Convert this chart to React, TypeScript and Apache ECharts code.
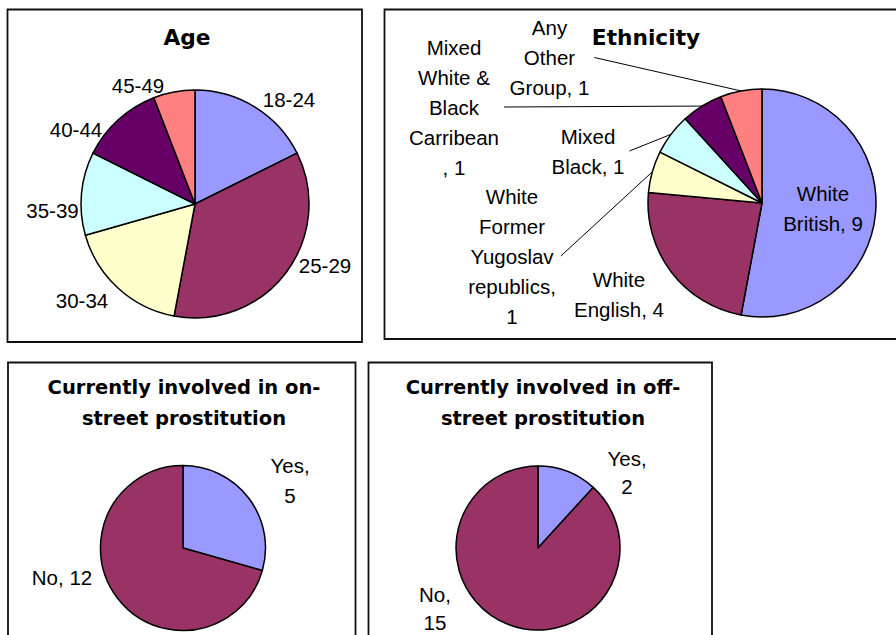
import React, { useEffect, useRef } from "react";
import * as echarts from "echarts";

// ---------- data ----------
const ageCategories = ["18-24", "25-29", "30-34", "35-39", "40-44", "45-49"];
const ageValues = [3, 6, 3, 2, 2, 1];

const ethnicityCategories = [
  "White British",
  "White English",
  "White Former Yugoslav republics",
  "Mixed Black",
  "Mixed White & Black Carribean",
  "Any Other Group",
];
const ethnicityValues = [9, 4, 1, 1, 1, 1];

const onStreetCategories = ["Yes", "No"];
const onStreetValues = [5, 12];

const offStreetCategories = ["Yes", "No"];
const offStreetValues = [2, 15];

// ---------- text templates (line breaks as in the original) ----------
const ethnicityLabelText = [
  "White\nBritish, {v}",
  "White\nEnglish, {v}",
  "White\nFormer\nYugoslav\nrepublics,\n{v}",
  "Mixed\nBlack, {v}",
  "Mixed\nWhite &\nBlack\nCarribean\n, {v}",
  "Any\nOther\nGroup, {v}",
];
const yesNoLabelText = ["Yes,\n{v}", "No, {v}"];
const yesNoLabelText2 = ["Yes,\n{v}", "No,\n{v}"];

// ---------- styles / layout ----------
const palette = ["#9999FF", "#993366", "#FFFFCC", "#CCFFFF", "#660066", "#FF8080"];
const LABEL_FONT = '"Liberation Sans", Arial, sans-serif';
const TITLE_FONT = '"DejaVu Sans", "Liberation Sans", Arial, sans-serif';

const agePos = [[289, 99], [325, 265], [82, 300], [52.5, 210], [76, 129], [138, 85.5]];
const ethPos = [[823, 208], [619, 294], [512, 256], [588, 151], [454, 107], [549.5, 57.5]];
const onPos = [[290, 480], [62, 577]];
const offPos = [[627, 472], [435, 608]];
const ethLeader = [false, false, true, true, true, true];

function layoutFor(pos: number[][], leader?: boolean[]) {
  return (p: any) => {
    const [x, y] = pos[p.dataIndex];
    const out: any = { x, y, align: "center", verticalAlign: "middle" };
    if (leader && leader[p.dataIndex] && p.labelLinePoints && p.labelLinePoints.length) {
      out.labelLinePoints = [p.labelLinePoints[0], [x + p.labelRect.width / 2 + 5, y]];
    }
    return out;
  };
}

function makeData(names: string[], values: number[], leader?: boolean[]) {
  return names.map((n, i) => ({
    name: n,
    value: values[i],
    itemStyle: { color: palette[i] },
    labelLine: { show: !!(leader && leader[i]) },
  }));
}

function fill(tpl: string, v: any) {
  return tpl.replace("{v}", String(v));
}

const basePie = {
  type: "pie",
  startAngle: 90,
  clockwise: true,
  avoidLabelOverlap: false,
  silent: true,
  emphasis: { disabled: true },
  itemStyle: { borderColor: "#000", borderWidth: 1.5 },
  label: {
    show: true,
    position: "outside",
    color: "#000",
    fontFamily: LABEL_FONT,
    fontSize: 20.5,
    lineHeight: 30,
    overflow: "none",
  },
  labelLine: { show: false, lineStyle: { color: "#000", width: 1 } },
};

export default function App() {
  const ref = useRef<HTMLDivElement>(null);

  useEffect(() => {
    if (!ref.current) return;
    const chart = echarts.init(ref.current, null, { renderer: "svg", width: 896, height: 635 });

    const panelStyle = { fill: "none", stroke: "#111", lineWidth: 1.8 };
    const titleStyle = (text: string, size: number, lh: number) => ({
      text,
      font: `bold ${size}px ${TITLE_FONT}`,
      fill: "#000",
      align: "center",
      verticalAlign: "middle",
      lineHeight: lh,
    });

    const option: any = {
      animation: false,
      backgroundColor: "#fff",
      graphic: [
        { type: "rect", silent: true, z: -1, shape: { x: 7.5, y: 9.5, width: 354.5, height: 332.5 }, style: panelStyle },
        { type: "rect", silent: true, z: -1, shape: { x: 384.5, y: 9.5, width: 520, height: 329.5 }, style: panelStyle },
        { type: "rect", silent: true, z: -1, shape: { x: 8, y: 362.5, width: 347.5, height: 290 }, style: panelStyle },
        { type: "rect", silent: true, z: -1, shape: { x: 368.5, y: 362.5, width: 343.5, height: 290 }, style: panelStyle },
        { type: "text", silent: true, x: 187, y: 37, style: titleStyle("Age", 21.7, 26) },
        { type: "text", silent: true, x: 646, y: 37, style: titleStyle("Ethnicity", 21.7, 26) },
        {
          type: "text", silent: true, x: 184, y: 403,
          style: titleStyle("Currently involved in on-\nstreet prostitution", 19.5, 31.5),
        },
        {
          type: "text", silent: true, x: 543, y: 403,
          style: titleStyle("Currently involved in off-\nstreet prostitution", 19.5, 31.5),
        },
      ],
      series: [
        {
          ...basePie,
          name: "Age",
          center: [195, 204],
          radius: 114,
          label: { ...basePie.label, formatter: (p: any) => p.name },
          labelLayout: layoutFor(agePos),
          data: makeData(ageCategories, ageValues),
        },
        {
          ...basePie,
          name: "Ethnicity",
          center: [762, 203],
          radius: 114,
          label: { ...basePie.label, formatter: (p: any) => fill(ethnicityLabelText[p.dataIndex], p.value) },
          labelLayout: layoutFor(ethPos, ethLeader),
          data: makeData(ethnicityCategories, ethnicityValues, ethLeader),
        },
        {
          ...basePie,
          name: "On-street",
          center: [183, 548],
          radius: 82.5,
          label: { ...basePie.label, formatter: (p: any) => fill(yesNoLabelText[p.dataIndex], p.value) },
          labelLayout: layoutFor(onPos),
          data: makeData(onStreetCategories, onStreetValues),
        },
        {
          ...basePie,
          name: "Off-street",
          center: [538, 548],
          radius: 82,
          label: {
            ...basePie.label,
            lineHeight: 28,
            formatter: (p: any) => fill(yesNoLabelText2[p.dataIndex], p.value),
          },
          labelLayout: layoutFor(offPos),
          data: makeData(offStreetCategories, offStreetValues),
        },
      ],
    };

    chart.setOption(option);
    return () => chart.dispose();
  }, []);

  return (
    <div
      ref={ref}
      style={{ position: "absolute", left: 0, top: 0, width: 896, height: 635, background: "#fff" }}
    />
  );
}
